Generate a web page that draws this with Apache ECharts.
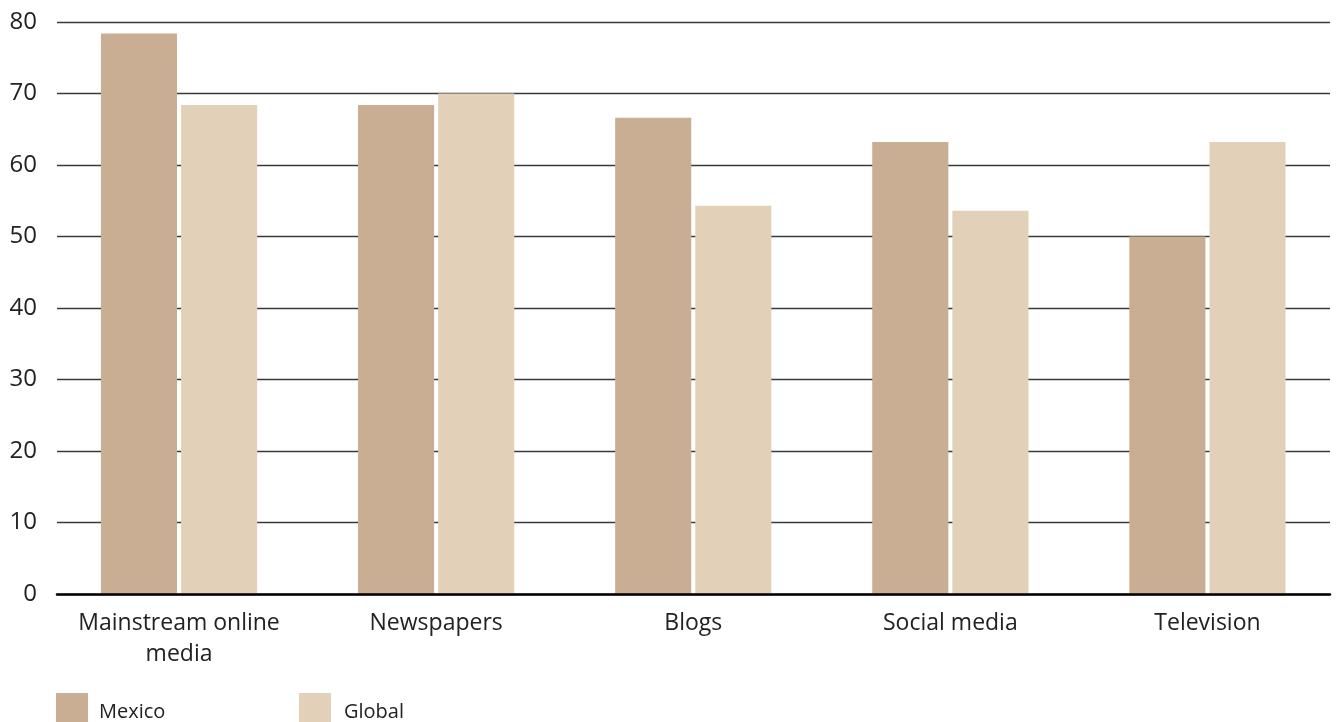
<!DOCTYPE html>
<html>
<head>
<meta charset="utf-8">
<script src="https://cdn.jsdelivr.net/npm/echarts@6/dist/echarts.min.js"></script>
<style>
html,body{margin:0;padding:0;background:#fff;}
#chart{width:1336px;height:722px;}
</style>
</head>
<body>
<div id="chart"></div>
<script>
const categories = ["Mainstream online\nmedia", "Newspapers", "Blogs", "Social media", "Television"];
const mexico = [78.4, 68.4, 66.6, 63.2, 50.0];
const global = [68.4, 70.0, 54.3, 53.6, 63.2];
const seriesNames = ["Mexico", "Global"];
const yTicks = [0, 10, 20, 30, 40, 50, 60, 70, 80];

const FONT = '"Open Sans", "Noto Sans", sans-serif';
const TXT = '#222222';
const chart = echarts.init(document.getElementById('chart'), null, {renderer: 'canvas'});
chart.setOption({
  animation: false,
  backgroundColor: '#ffffff',
  grid: [
    {left: 57, right: 6, top: 22, bottom: 128, containLabel: false},
    {left: 50.5, right: 0, top: 22, bottom: 128, containLabel: false}
  ],
  legend: [
    {data: [seriesNames[0]], left: 56, top: 693, padding: 0, itemWidth: 32, itemHeight: 38, icon: 'rect',
     textStyle: {fontFamily: FONT, fontSize: 20, color: TXT, padding: [0,0,0,6]}},
    {data: [seriesNames[1]], left: 299, top: 693, padding: 0, itemWidth: 32, itemHeight: 38, icon: 'rect',
     textStyle: {fontFamily: FONT, fontSize: 20, color: TXT, padding: [0,0,0,8]}}
  ],
  xAxis: [
    {
      gridIndex: 0,
      type: 'category',
      data: categories,
      z: 5,
      axisLine: {show: true, lineStyle: {color: '#000', width: 2.5}},
      axisTick: {show: false},
      axisLabel: {show: false}
    },
    {
      gridIndex: 1,
      type: 'category',
      data: categories,
      axisLine: {show: false},
      axisTick: {show: false},
      axisLabel: {fontFamily: FONT, fontSize: 23, color: TXT, margin: 14, lineHeight: 31, interval: 0}
    }
  ],
  yAxis: [
    {
      gridIndex: 0,
      type: 'value',
      min: yTicks[0],
      max: yTicks[yTicks.length - 1],
      interval: 10,
      axisLine: {show: false},
      axisTick: {show: false},
      axisLabel: {fontFamily: FONT, fontSize: 24, color: TXT, margin: 20},
      splitLine: {show: true, lineStyle: {color: '#3a3a3a', width: 1.3}}
    },
    {
      gridIndex: 1,
      type: 'value',
      min: yTicks[0],
      max: yTicks[yTicks.length - 1],
      interval: 10,
      show: false,
      splitLine: {show: false}
    }
  ],
  series: [
    {name: seriesNames[0], type: 'bar', xAxisIndex: 1, yAxisIndex: 1, data: mexico,
     barWidth: '29.6%', barGap: '5.3%', itemStyle: {color: '#c9ae93'}},
    {name: seriesNames[1], type: 'bar', xAxisIndex: 1, yAxisIndex: 1, data: global,
     barWidth: '29.6%', barGap: '5.3%', itemStyle: {color: '#e2d1b8'}}
  ]
});
</script>
</body>
</html>
